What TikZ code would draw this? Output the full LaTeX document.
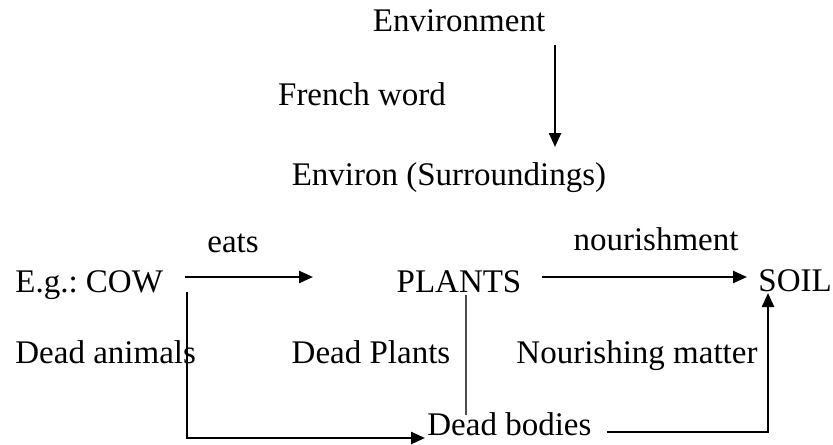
\documentclass[tikz,border=0pt]{standalone}
\usepackage{fontspec}
\usepackage{tikz}
\setmainfont{Liberation Serif}
\usetikzlibrary{arrows.meta}
\usetikzlibrary{positioning}

\begin{document}
\begin{tikzpicture}[x=0.5pt, y=-0.5pt,
    every node/.style={font=\fontsize{16.5}{19}\selectfont, inner sep=0pt},
    word/.style={anchor=base},
    leftword/.style={anchor=base west},
    flow/.style={line width=1.2pt, -{Triangle[length=7pt, width=6pt]}},
    deadline/.style={line width=1pt, black!70}]
    \useasboundingbox (0,0) rectangle (833,444);

      \node [word] (env) at (459,32) {Environment};
      \node [word] (french) at (362,105) {French word};
      \node [word] (environ) at (449,185) {Environ (Surroundings)};

      \node [leftword] (cow) at (15,292) {E.g.:\ COW};
      \node [word] (eats) at (233,252) {eats};
      \node [word] (plants) at (459,292) {PLANTS};
      \node [word] (nourish) at (656,250) {nourishment};
      \node [leftword] (soil) at (758,291) {SOIL};

      \node [leftword] (animals) at (15,363) {Dead animals};
      \node [word] (deadplants) at (371,363) {Dead Plants};
      \node [word] (matter) at (637,363) {Nourishing matter};
      \node [leftword] (bodies) at (427,435) {Dead bodies};

      \draw [flow] ([shift={(96,13)}]env.base) -- ([shift={(106,-38)}]environ.base);
      \draw [flow] ([shift={(170,-15)}]cow.base west) -- ([shift={(-146,-15)}]plants.base);
      \draw [flow] ([shift={(83,-15)}]plants.base) -- ([shift={(-11,-14)}]soil.base west);
      \draw [flow] ([shift={(172,0)}]cow.base west) |- ([shift={(-2,3)}]bodies.base west);
      \draw [deadline] ([shift={(7,3)}]plants.base) -- ([shift={(39,-20)}]bodies.base west);
      \draw [flow] ([shift={(15,-3)}]bodies.base east) -| ([shift={(10,2)}]soil.base west);
\end{tikzpicture}
\end{document}
